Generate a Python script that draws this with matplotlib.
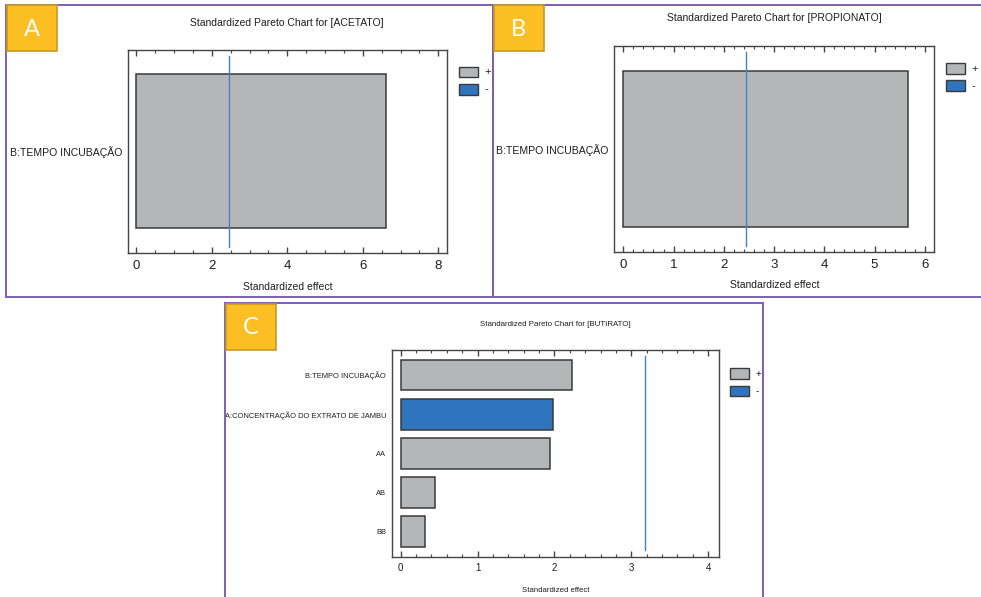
import matplotlib
matplotlib.use("Agg")
import matplotlib.pyplot as plt
from matplotlib import font_manager
from matplotlib.patches import Rectangle
from matplotlib.ticker import MultipleLocator

# ---- data -------------------------------------------------------------
acetato_factors = ["B:TEMPO INCUBAÇÃO"]
acetato_effects = [6.61]
acetato_signs = ["+"]
acetato_critical = 2.447

propionato_factors = ["B:TEMPO INCUBAÇÃO"]
propionato_effects = [5.66]
propionato_signs = ["+"]
propionato_critical = 2.447

butirato_factors = ["B:TEMPO INCUBAÇÃO",
                    "A:CONCENTRAÇÃO DO EXTRATO DE JAMBU",
                    "AA", "AB", "BB"]
butirato_effects = [2.23, 1.975, 1.944, 0.446, 0.31]
butirato_signs = ["+", "-", "+", "+", "+"]
butirato_critical = 3.182

# ---- style ------------------------------------------------------------
W, H = 981, 597
installed = {f.name for f in font_manager.fontManager.ttflist}
SANS = "Liberation Sans" if "Liberation Sans" in installed else "DejaVu Sans"
BADGE_FONT = "Lato" if "Lato" in installed else "DejaVu Sans"

GRAY = "#b4b6b7"
BLUE = "#2f74bd"
EDGE = "#3a3a3a"
CRIT = "#4a7fc8"
FRAME = "#7d5fb2"
BADGE = "#fbbf24"
BADGE_EDGE = "#c99a22"
TEXT = "#1e1e1e"

plt.rcParams["font.family"] = [SANS, "DejaVu Sans"]

fig = plt.figure(figsize=(W / 100, H / 100), dpi=100)
fig.patch.set_facecolor("white")


def fx(x):
    return x / W


def fy(y):
    return 1 - y / H


def add_axes_px(left, top, right, bottom):
    return fig.add_axes([fx(left), fy(bottom), (right - left) / W, (bottom - top) / H])


def frame_px(left, top, right, bottom, color=FRAME, lw=1.4):
    fig.patches.append(Rectangle((fx(left), fy(bottom)), (right - left) / W,
                                 (bottom - top) / H, transform=fig.transFigure,
                                 fill=False, edgecolor=color, linewidth=lw,
                                 zorder=0))


def badge_px(left, top, right, bottom, letter):
    fig.patches.append(Rectangle((fx(left), fy(bottom)), (right - left) / W,
                                 (bottom - top) / H, transform=fig.transFigure,
                                 facecolor=BADGE, edgecolor=BADGE_EDGE,
                                 linewidth=1.2, zorder=3))
    fig.text(fx((left + right) / 2), fy((top + bottom) / 2 + 1), letter,
             color="white", fontsize=17, family=[BADGE_FONT, "DejaVu Sans"],
             fontweight="normal", ha="center", va="center", zorder=4)


def legend_px(x0, x1, y_plus, y_minus, h, fontsize):
    for (y, c, s) in [(y_plus, GRAY, "+"), (y_minus, BLUE, "-")]:
        fig.patches.append(Rectangle((fx(x0), fy(y + h)), (x1 - x0) / W, h / H,
                                     transform=fig.transFigure, facecolor=c,
                                     edgecolor=EDGE, linewidth=1.0, zorder=3))
        fig.text(fx(x1 + 7), fy(y + h / 2), s, fontsize=fontsize, color=TEXT,
                 ha="left", va="center")


def pareto(ax, factors, effects, signs, critical, xlim, major, minor,
           bar_height, ylim, fs_tick, fs_cat, fs_label, labelpad):
    pos = list(range(len(factors)))
    colors = [GRAY if s == "+" else BLUE for s in signs]
    ax.barh(pos, effects, height=bar_height, color=colors, edgecolor=EDGE,
            linewidth=1.1, zorder=2)
    ax.axvline(critical, ymin=0.03, ymax=0.97, color=CRIT, linewidth=1.0, zorder=3)
    ax.set_xlim(*xlim)
    ax.set_ylim(*ylim)
    ax.set_yticks(pos)
    ax.set_yticklabels(factors, fontsize=fs_cat, color=TEXT)
    ax.xaxis.set_major_locator(MultipleLocator(major))
    ax.xaxis.set_minor_locator(MultipleLocator(minor))
    ax.tick_params(axis="x", which="both", direction="in", top=True, bottom=True,
                   color="#444444", labelsize=fs_tick, labelcolor=TEXT, pad=5)
    ax.tick_params(axis="x", which="major", length=4.5, width=1.0)
    ax.tick_params(axis="x", which="minor", length=2.5, width=0.8)
    ax.tick_params(axis="y", length=0, pad=4)
    for sp in ax.spines.values():
        sp.set_color("#444444")
        sp.set_linewidth(1.0)
    ax.set_xlabel("Standardized effect", fontsize=fs_label, color=TEXT,
                  labelpad=labelpad)


# ---- panel frames -------------------------------------------------------
frame_px(6, 5, 493, 297)
frame_px(493, 5, 985, 297)
frame_px(225, 303, 763, 600)

# ---- A: acetato ---------------------------------------------------------
axA = add_axes_px(127.7, 49.7, 447, 253)
pareto(axA, acetato_factors, acetato_effects, acetato_signs, acetato_critical,
       (-0.23, 8.23), 2, 0.5, 1.0, (0.66, -0.66), 9.5, 7.6, 7.5, 7)
fig.text(fx(287), fy(22.7), "Standardized Pareto Chart for [ACETATO]",
         fontsize=7.5, color=TEXT, ha="center", va="center")
legend_px(459.3, 477.7, 66.7, 84.3, 10.5, 8)
badge_px(7, 5, 57, 51, "A")

# ---- B: propionato -------------------------------------------------------
axB = add_axes_px(614.3, 45.7, 934.3, 251.7)
pareto(axB, propionato_factors, propionato_effects, propionato_signs,
       propionato_critical, (-0.18, 6.19), 1, 0.2, 1.0, (0.66, -0.66),
       9.5, 7.6, 7.5, 7)
fig.text(fx(774.3), fy(18.3), "Standardized Pareto Chart for [PROPIONATO]",
         fontsize=7.5, color=TEXT, ha="center", va="center")
legend_px(946, 964.7, 63.3, 80.5, 10.8, 8)
badge_px(493.5, 5, 543.7, 51, "B")

# ---- C: butirato -------------------------------------------------------
axC = add_axes_px(391.7, 350, 719, 556.5)
pareto(axC, butirato_factors, butirato_effects, butirato_signs,
       butirato_critical, (-0.117, 4.14), 1, 0.2, 0.79, (4.64, -0.64),
       7, 5.4, 5.6, 10)
fig.text(fx(555), fy(324.3), "Standardized Pareto Chart for [BUTIRATO]",
         fontsize=5.7, color=TEXT, ha="center", va="center")
legend_px(730, 749, 368.3, 385.7, 10.5, 7)
badge_px(225.5, 304, 276, 350, "C")

fig.savefig("out.png", dpi=100, facecolor="white")
